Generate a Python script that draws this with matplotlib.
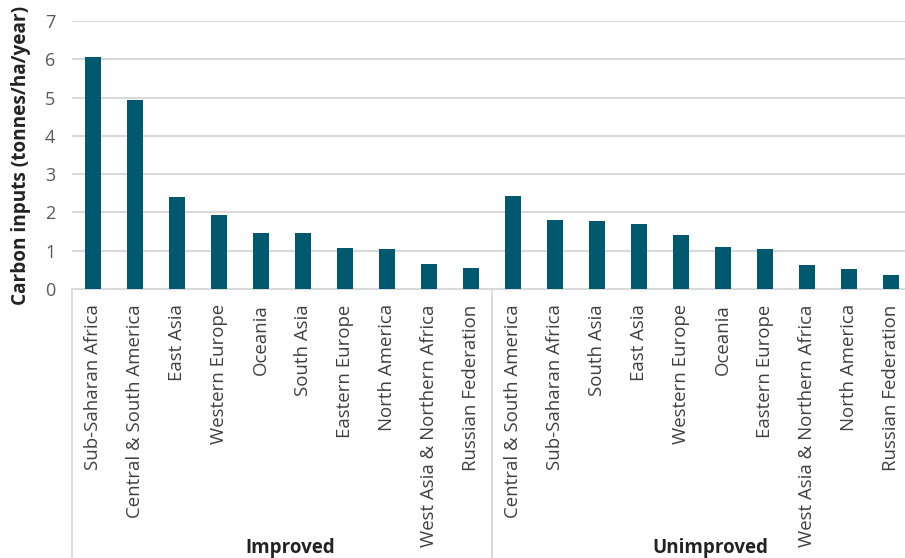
import numpy as np
import matplotlib
matplotlib.use("Agg")
import matplotlib.pyplot as plt
from matplotlib.transforms import blended_transform_factory

plt.rcParams['font.family'] = ['Open Sans', 'DejaVu Sans']

# data
groups = ["Improved", "Unimproved"]
improved_regions = ["Sub-Saharan Africa", "Central & South America", "East Asia",
                    "Western Europe", "Oceania", "South Asia", "Eastern Europe",
                    "North America", "West Asia & Northern Africa", "Russian Federation"]
improved_values = [6.05, 4.93, 2.41, 1.93, 1.47, 1.45, 1.08, 1.04, 0.66, 0.56]
unimproved_regions = ["Central & South America", "Sub-Saharan Africa", "South Asia",
                      "East Asia", "Western Europe", "Oceania", "Eastern Europe",
                      "West Asia & Northern Africa", "North America", "Russian Federation"]
unimproved_values = [2.42, 1.80, 1.78, 1.71, 1.42, 1.10, 1.05, 0.62, 0.51, 0.36]
y_ticks = [0, 1, 2, 3, 4, 5, 6, 7]

bar_color = "#00596f"
grid_color = "#d9d9d9"

labels = improved_regions + unimproved_regions
values = improved_values + unimproved_values
x = np.arange(len(labels))

W, H = 905, 558
fig = plt.figure(figsize=(W / 100, H / 100), dpi=100)
left, right, top, bottom = 72, 905, 21, 289
ax = fig.add_axes([left / W, 1 - bottom / H, (right - left) / W, (bottom - top) / H])

ax.bar(x, values, width=0.36, color=bar_color, zorder=3)

cat_w = 42.0  # pixel width of one category
ax.set_xlim(-0.5, -0.5 + (right - left) / cat_w)
ax.set_ylim(0, 7)
ax.set_yticks(y_ticks)
ax.set_yticklabels([str(t) for t in y_ticks], fontsize=13, color="#595959")
ax.yaxis.grid(True, color=grid_color, linewidth=1.5, zorder=0)
ax.tick_params(axis='y', length=0, pad=12)
ax.tick_params(axis='x', length=0, pad=11)
ax.set_xticks(x)
ax.set_xticklabels(labels, rotation=90, fontsize=13.4, color="#404040")
for s in ax.spines.values():
    s.set_visible(False)

ax.set_ylabel("Carbon inputs (tonnes/ha/year)", fontsize=13.7, fontweight="bold",
              color="#222222", labelpad=10)

# group separators and labels under the axis
trans = blended_transform_factory(ax.transData, fig.transFigure)
y0 = 1 - bottom / H
for xs in [-0.5, 9.5, 19.5]:
    ax.plot([xs, xs], [y0, 0], transform=trans, color=grid_color, linewidth=1.3,
            clip_on=False)
ax.plot([-0.5, 19.5], [y0, y0], transform=trans, color=grid_color, linewidth=1.5,
        clip_on=False, zorder=2)
n = len(improved_regions)
for i, g in enumerate(groups):
    xc = i * n + (n - 1) / 2 + 0.2
    ax.text(xc, 1 - 548 / H, g, transform=trans, ha="center", va="center",
            fontsize=13.5, fontweight="bold", color="#222222")

fig.savefig("out.png", dpi=100)
